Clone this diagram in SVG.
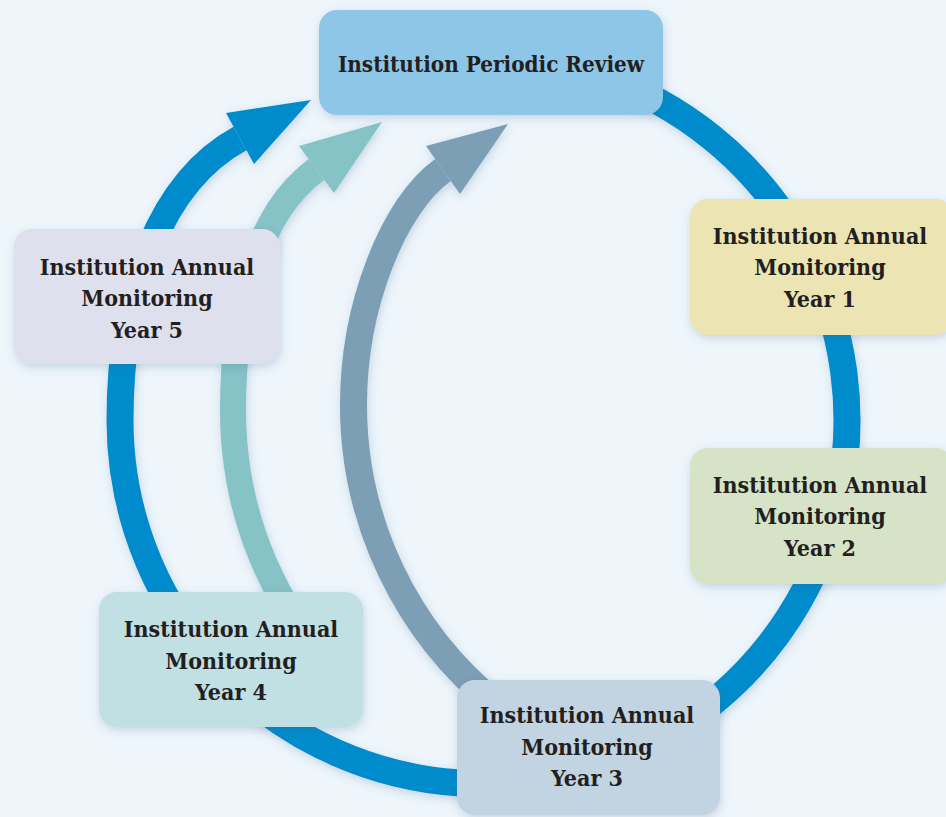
<svg xmlns="http://www.w3.org/2000/svg" width="946" height="817" viewBox="0 0 946 817">
<style>
.t{font-family:"DejaVu Serif Condensed","DejaVu Serif",serif;font-weight:bold;font-size:23px;fill:#231f20;text-anchor:middle}
.t2{font-size:22.3px}
.shaft{fill:none;stroke-linecap:butt}
.box{filter:url(#sh)}
</style>
<defs>
<filter id="sh" x="-20%" y="-20%" width="140%" height="140%">
<feDropShadow dx="1" dy="3" stdDeviation="5" flood-color="#34597a" flood-opacity="0.22"/>
</filter>
</defs>
<rect width="946" height="817" fill="#eef6fc"/>
<g id="connectors" filter="url(#sh)">
<g id="arrow-blue">
<path class="shaft" d="M600,76 A363.5,363.5 0 1 1 120,420 C120,290 160.8,181.7 240,138.5" stroke="#008ccc" stroke-width="27"/>
<polygon points="226,113 311,100 254,164" fill="#008ccc"/>
</g>
<g id="arrow-teal">
<path class="shaft" d="M285.6,605 A388,388 0 0 1 233,410 C233,320 251.7,216.7 316.5,169.5" stroke="#86c3c7" stroke-width="26"/>
<polygon points="299,146 382,122 334,193" fill="#86c3c7"/>
</g>
<g id="arrow-steel">
<path class="shaft" d="M497,705 A385,385 0 0 1 353.5,405 C353.5,305 393.8,204.8 443,170" stroke="#7b9fb5" stroke-width="27"/>
<polygon points="426,146 508,124 460,194" fill="#7b9fb5"/>
</g>
</g>
<g id="review">
<rect class="box" x="319" y="10" width="344" height="105" rx="18" fill="#8ec6e8"/>
<text class="t t2" x="491" y="72">Institution Periodic Review</text>
</g>
<g id="year1">
<rect class="box" x="690" y="199" width="263" height="136" rx="18" fill="#ece4b3"/>
<text class="t" x="820" y="244">Institution Annual</text>
<text class="t" x="820" y="275">Monitoring</text>
<text class="t" x="820" y="307">Year 1</text>
</g>
<g id="year2">
<rect class="box" x="690" y="448" width="263" height="136" rx="18" fill="#d6e3c6"/>
<text class="t" x="820" y="493">Institution Annual</text>
<text class="t" x="820" y="524">Monitoring</text>
<text class="t" x="820" y="556">Year 2</text>
</g>
<g id="year3">
<rect class="box" x="457" y="680" width="263" height="135" rx="18" fill="#c2d4e1"/>
<text class="t" x="587" y="723">Institution Annual</text>
<text class="t" x="587" y="755">Monitoring</text>
<text class="t" x="587" y="786">Year 3</text>
</g>
<g id="year4">
<rect class="box" x="99" y="592" width="264" height="135" rx="18" fill="#c0e0e3"/>
<text class="t" x="231" y="637">Institution Annual</text>
<text class="t" x="231" y="669">Monitoring</text>
<text class="t" x="231" y="700">Year 4</text>
</g>
<g id="year5">
<rect class="box" x="14" y="229" width="266" height="135" rx="18" fill="#dfe0ee"/>
<text class="t" x="147" y="275">Institution Annual</text>
<text class="t" x="147" y="306">Monitoring</text>
<text class="t" x="147" y="338">Year 5</text>
</g>
</svg>
